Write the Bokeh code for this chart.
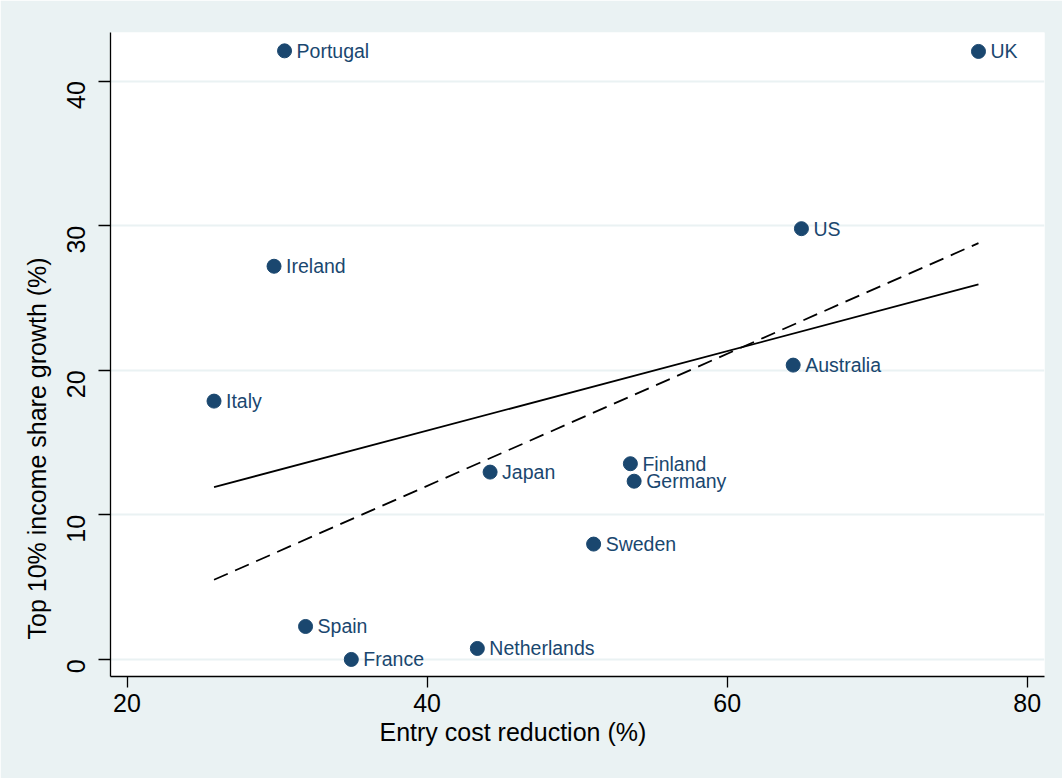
import math
from bokeh.plotting import figure
from bokeh.models import ColumnDataSource, Range1d, FixedTicker, Title
from bokeh.core.properties import value
from bokeh.embed import file_html
from bokeh.resources import INLINE

# ---- data ----
countries = ["Portugal", "UK", "US", "Ireland", "Australia", "Italy", "Japan",
             "Finland", "Germany", "Sweden", "Spain", "France", "Netherlands"]
entry_cost_reduction = [30.5, 76.75, 64.95, 29.8, 64.4, 25.8, 44.2,
                        53.55, 53.8, 51.1, 31.9, 34.95, 43.35]
top10_growth = [42.1, 42.06, 29.8, 27.2, 20.36, 17.87, 12.96,
                13.54, 12.33, 7.98, 2.28, 0.0, 0.76]

fit_x = [25.8, 76.75]
fit_solid = [11.92, 25.94]
fit_dashed = [5.51, 28.8]

x_ticks = [20, 40, 60, 80]
y_ticks = [0, 10, 20, 30, 40]

x_title = "Entry cost reduction (%)"
y_title = "Top 10% income share growth (%)"

# ---- style ----
BG = "#EAF2F3"
NAVY = "#1A476F"
FONT = "Liberation Sans"

W, H = 1062, 778
p = figure(width=W, height=H, output_backend="svg", toolbar_location=None,
           x_range=Range1d(18.9, 81.15), y_range=Range1d(-1.18, 43.37),
           min_border_left=110, min_border_right=18,
           min_border_top=32, min_border_bottom=102)
p.border_fill_color = BG
p.background_fill_color = "white"
p.outline_line_color = None

# grid
p.xgrid.grid_line_color = None
p.ygrid.grid_line_color = BG
p.ygrid.grid_line_width = 2

# axes
p.xaxis.ticker = FixedTicker(ticks=x_ticks)
p.yaxis.ticker = FixedTicker(ticks=y_ticks)
for ax in (p.xaxis[0], p.yaxis[0]):
    ax.axis_line_color = "black"
    ax.axis_line_width = 1.3
    ax.major_tick_line_color = "black"
    ax.major_tick_line_width = 1.3
    ax.major_tick_in = 0
    ax.minor_tick_line_color = None
    ax.major_label_text_font = FONT
    ax.major_label_text_font_size = "25px"
    ax.major_label_text_color = "black"
p.xaxis.major_tick_out = 11
p.yaxis.major_tick_out = 12
p.xaxis.major_label_standoff = 6
p.yaxis.major_label_standoff = 22
p.yaxis.major_label_orientation = math.pi / 2

# axis titles (placed off-centre, as in the original)
p.add_layout(Title(text=x_title, align="left", offset=269, standoff=6,
                   vertical_align="top",
                   text_font=FONT, text_font_size="25px",
                   text_font_style="normal", text_color="black"), "below")
p.add_layout(Title(text=y_title, align="left", offset=37, standoff=10,
                   vertical_align="bottom",
                   text_font=FONT, text_font_size="25px",
                   text_font_style="normal", text_color="black"), "left")

# fitted lines
p.line(fit_x, fit_solid, line_color="black", line_width=1.8)
p.line(fit_x, fit_dashed, line_color="black", line_width=1.8, line_dash="15 8")

# points and labels
src = ColumnDataSource(dict(x=entry_cost_reduction, y=top10_growth, name=countries))
p.scatter("x", "y", source=src, size=14, fill_color=NAVY, line_color=NAVY,
          marker="circle")
p.text("x", "y", text="name", source=src, x_offset=12,
       text_align="left", text_baseline="middle",
       text_font=value(FONT), text_font_size="19.5px", text_color=NAVY)

open("out.html", "w").write(file_html(p, INLINE))
